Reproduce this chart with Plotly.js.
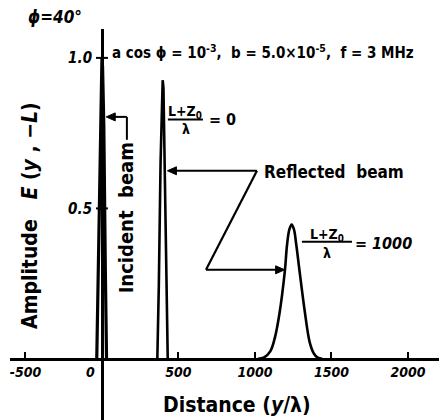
<!DOCTYPE html>
<html>
<head>
<meta charset="utf-8">
<script src="https://cdn.plot.ly/plotly-3.0.1.min.js"></script>
<style>html,body{margin:0;padding:0;background:#fff;}#chart{width:439px;height:420px;}</style>
</head>
<body>
<div id="chart"></div>
<script>
// Incident beam (narrow peak at y/lambda = 0)
var incidentX = [-34, -24, -12, -4, 0, 4, 12, 22, 30];
var incidentY = [0, 0.3, 0.78, 0.97, 1.0, 0.97, 0.78, 0.3, 0];
// Reflected beam, (L+Z0)/lambda = 0
var refl0X = [362, 372, 383, 392, 397, 402, 410, 420, 430];
var refl0Y = [0, 0.25, 0.65, 0.9, 0.926, 0.9, 0.65, 0.25, 0];
// Reflected beam, (L+Z0)/lambda = 1000
var refl1000X = [1020, 1060, 1100, 1130, 1160, 1195, 1210, 1225, 1240, 1255, 1270, 1292, 1325, 1358, 1385, 1410, 1440];
var refl1000Y = [0, 0.005, 0.025, 0.07, 0.15, 0.29, 0.38, 0.43, 0.446, 0.43, 0.38, 0.29, 0.16, 0.055, 0.018, 0.004, 0];
// Tick labels
var xTickVals = [-500, 500, 1000, 1500, 2000];
var xTickText = ['-500', '500', '1000', '1500', '2000'];
var yTickVals = [0.5, 1.0];
var yTickText = ['0.5', '1.0'];

var FONT = 'Liberation Sans Narrow, DejaVu Sans Condensed, Liberation Sans, sans-serif';

var traces = [
  {x: incidentX, y: incidentY, mode: 'lines', line: {color: 'black', width: 3.2}, hoverinfo: 'skip'},
  {x: refl0X, y: refl0Y, mode: 'lines', line: {color: 'black', width: 2.6}, hoverinfo: 'skip'},
  {x: refl1000X, y: refl1000Y, mode: 'lines', line: {color: 'black', width: 2.6, shape: 'spline'}, hoverinfo: 'skip'}
];

function ln(x0, y0, x1, y1, w) {
  return {type: 'line', xref: 'x', yref: 'y', x0: x0, y0: y0, x1: x1, y1: y1,
          line: {color: 'black', width: w || 2}};
}
// arrow head as a filled triangle; dir = -1 points left, +1 points right
var PXX = 6.536, PXY = 1 / 301;
function head(x, y, dir) {
  var bx = x - dir * 9 * PXX;
  return {type: 'path', xref: 'x', yref: 'y',
          path: 'M' + x + ',' + y + ' L' + bx + ',' + (y + 4 * PXY) + ' L' + bx + ',' + (y - 4 * PXY) + ' Z',
          fillcolor: 'black', line: {color: 'black', width: 1}};
}

var shapes = [
  // cross ticks on y axis
  ln(-39, 1.0, 39, 1.0, 2),
  ln(-39, 0.5, 39, 0.5, 2),
  // incident beam bracket
  ln(163, 0.728, 163, 0.804, 2),
  ln(163, 0.804, 40, 0.804, 2),
  head(28, 0.804, -1),
  // reflected beam connector
  ln(1013, 0.625, 440, 0.625, 2),
  head(428, 0.625, -1),
  ln(1013, 0.625, 680, 0.296, 2.2),
  ln(680, 0.296, 1180, 0.296, 2),
  head(1194, 0.296, 1),
  // fraction bars
  ln(431, 0.795, 660, 0.795, 2),
  ln(1307, 0.389, 1634, 0.389, 2)
];

function txt(x, y, text, size, opts) {
  var a = {x: x, y: y, xref: 'x', yref: 'y', text: text, showarrow: false,
           font: {family: FONT, size: size, color: 'black', weight: 'bold'},
           xanchor: 'center', yanchor: 'middle'};
  for (var k in (opts || {})) a[k] = opts[k];
  return a;
}

var annotations = [
  txt(-307, 1.031, '<i>ϕ=40°</i>', 17, {yref: 'paper'}),
  txt(52, 1.02, 'a cos ϕ = 10<sup>-3</sup>,  b = 5.0×10<sup>-5</sup>,  f = 3 MHz', 15, {xanchor: 'left'}),
  txt(163, 0.47, 'Incident  beam', 20, {textangle: -90}),
  txt(1046, 0.621, 'Reflected  beam', 17, {xanchor: 'left'}),
  txt(542, 0.82, 'L+Z<sub>0</sub>', 14),
  txt(549, 0.765, 'λ', 14),
  txt(686, 0.795, '= 0', 16, {xanchor: 'left'}),
  txt(1471, 0.41, 'L+Z<sub>0</sub>', 14),
  txt(1471, 0.353, 'λ', 14),
  txt(1641, 0.385, '= <i>1000</i>', 16, {xanchor: 'left'}),
  txt(-471, 0.478, 'Amplitude   <i>E</i> (<i>y</i> , −<i>L</i>)', 21, {textangle: -90}),
  txt(882, -0.153, 'Distance (<i>y</i>/λ)', 21),
  txt(-75, -0.045, '<i>0</i>', 14)
];

var layout = {
  width: 439, height: 420,
  margin: {l: 10, r: 0, t: 29, b: 0, pad: 0},
  paper_bgcolor: 'white', plot_bgcolor: 'white',
  showlegend: false,
  xaxis: {
    range: [-601, 2203], showgrid: false, zeroline: false,
    showline: true, linewidth: 2.5, linecolor: 'black',
    anchor: 'free', position: 0.156,
    ticks: 'inside', ticklen: 6, tickwidth: 2, tickcolor: 'black',
    tickvals: xTickVals, ticktext: xTickText,
    tickfont: {family: FONT, size: 14, color: 'black', weight: 'bold', style: 'italic'}
  },
  yaxis: {
    range: [-0.203, 1.096], showgrid: false, zeroline: false,
    showline: true, linewidth: 2.5, linecolor: 'black',
    anchor: 'free', position: 0.2145,
    ticks: '', tickvals: yTickVals, ticktext: yTickText, ticklabelstandoff: 6,
    tickfont: {family: FONT, size: 15, color: 'black', weight: 'bold', style: 'italic'}
  },
  shapes: shapes,
  annotations: annotations
};

Plotly.newPlot('chart', traces, layout, {staticPlot: true, displayModeBar: false});
</script>
</body>
</html>
